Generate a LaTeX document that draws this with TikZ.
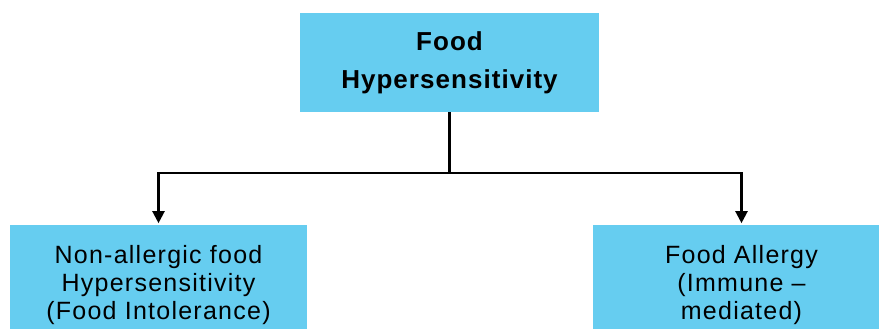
\documentclass[tikz,border=0pt]{standalone}
\usepackage{fontspec}
\setmainfont{Liberation Sans}
\newfontfamily\topfont[LetterSpace=4]{Liberation Sans}
\newfontfamily\leaffont[LetterSpace=5]{Liberation Sans}
\usetikzlibrary{positioning, arrows.meta}

\definecolor{boxblue}{HTML}{66CDF0}

\begin{document}
\begin{tikzpicture}[
    x=1pt, y=-1pt,
    node distance=0.3cm,
    box/.style={rectangle, fill=boxblue, align=center, inner sep=0pt},
    topbox/.style={box, minimum width=299pt, minimum height=99pt, font=\topfont\fontsize{26}{38}\selectfont\bfseries},
    leafbox/.style={box, minimum width=297pt, minimum height=120pt, font=\leaffont\fontsize{25}{28}\selectfont},
    arrow/.style={-{Triangle[length=12pt, width=12pt]}, line width=2.2pt, shorten >=2pt},
    line/.style={line width=2.2pt},
]
    \useasboundingbox (0,0) rectangle (879,329);

%% MAIN LOGIC
    % root
    \node[topbox] (hyper) at (449.5,62.5) {Food\\Hypersensitivity};

    % the two kinds
    \node[leafbox, below=113pt of hyper, xshift=-291pt] (intolerance) {Non-allergic food\\Hypersensitivity\\(Food Intolerance)};
    \node[leafbox, below=113pt of hyper, xshift=292pt] (allergy) {Food Allergy\\(Immune –\\mediated)};

    \coordinate[below=61pt of hyper.south] (fork);

    \draw[line] (hyper.south) -- (fork);
    \draw[arrow] (fork) -| (intolerance.north);
    \draw[arrow] (fork) -| (allergy.north);

\end{tikzpicture}
\end{document}
